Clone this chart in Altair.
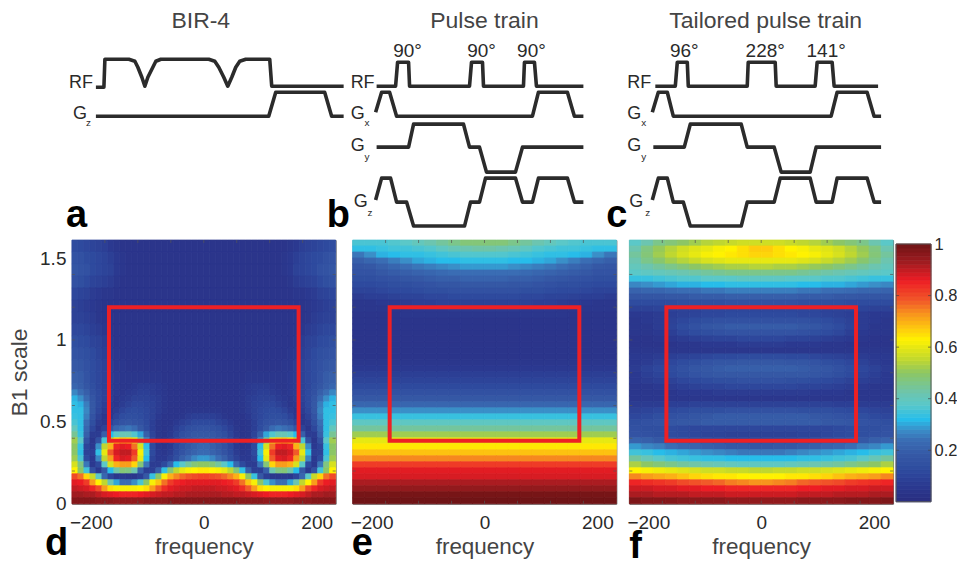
import altair as alt
import pandas as pd

FONT = "Liberation Sans"
INK = "#2b2b2b"
TXT = "#2a2a2a"

# ---- colour map
CMAP_STOPS = [0, .06, .12, .18, .24, .28, .32, .38, .42, .5, .55, .63, .69, .73, .78, .86, .93, 1]
CMAP_COLORS = ["#2a2e80", "#2b3990", "#2e4a9e", "#3558a5", "#3a6db4", "#3a8fc8", "#27bdea", "#5bc8c8",
               "#6cc5b0", "#8cc665", "#bfd730", "#fff200", "#fdb913", "#f7941d", "#f15a29", "#ed1c24",
               "#a01c20", "#701416"]

FREQ_MAX = 233.6
B1_MAX = 1.61
RED_FREQ = [-168, 168]
RED_B1 = [0.384, 1.2]
X_TICK_LABELS = [-200, 0, 200]
Y_TICK_LABELS = [0, 0.5, 1, 1.5]
X_MINOR = [-175.2, -116.8, -58.4, 0, 58.4, 116.8, 175.2]
Y_MINOR = [0.2, 0.4, 0.6, 0.8, 1.0, 1.2, 1.4]
CB_TICKS = [0.2, 0.4, 0.6, 0.8, 1]

# ---- panel d: left half, rows from top (B1 high) to bottom; in percent
D_TOP = [
 [13,12,11,10,9,8,6,5,4,4,4,4,4,4,4,4,4,4,4,4,4,4],
 [16,15,13,12,11,10,8,6,5,4,4,4,4,4,4,4,4,4,4,4,4,4],
 [17,16,15,12,11,10,9,6,5,4,4,4,4,4,4,4,4,4,4,4,4,4],
 [15,14,12,10,9,8,7,5,4,4,4,4,4,4,4,4,4,4,4,4,4,4],
 [11,10,9,7,6,5,5,4,4,4,4,4,4,4,4,4,4,4,4,4,4,4],
 [9,8,7,6,5,4,4,4,4,4,4,4,4,4,4,4,4,4,4,4,4,4],
 [9,9,8,7,5,4,4,4,4,4,4,4,4,4,4,4,4,4,4,4,4,4],
 [11,11,10,8,7,5,4,4,4,4,4,4,4,4,4,4,4,4,4,4,4,4],
 [14,13,12,10,9,7,5,4,4,4,4,4,4,4,4,4,4,4,4,4,4,4],
 [16,15,14,12,10,8,6,5,4,4,4,4,4,4,4,4,4,4,4,4,4,4],
 [18,17,15,13,11,9,7,5,5,4,4,4,4,4,4,4,4,4,4,4,4,4],
 [20,19,16,13,11,9,7,6,5,5,5,5,5,5,5,4,4,4,4,4,4,4],
]
D_BOTTOM = [
 [22,20,17,14,11,9,7,6,5,5,6,7,7,7,6,5,4,4,4,4,4,4],
 [27,24,20,15,12,9,7,6,5,6,7,8,8,7,6,5,4,4,4,4,4,4],
 [31,28,23,17,12,9,7,5,6,7,9,9,9,8,7,5,4,4,4,4,4,4],
 [33,31,26,18,12,8,6,5,7,9,11,11,10,9,7,5,4,4,4,4,4,4],
 [33,33,27,18,11,7,5,7,10,12,13,12,11,9,7,5,4,4,4,5,5,5],
 [34,33,26,16,9,5,6,10,13,14,14,13,11,9,6,4,4,4,5,7,8,8],
 [36,33,24,14,7,5,10,14,16,17,16,15,12,8,5,4,4,6,8,10,12,12],
 [40,33,22,11,5,9,17,22,24,25,23,18,13,8,5,4,5,8,11,14,15,16],
 [45,34,20,7,7,20,32,38,41,41,37,30,20,10,5,4,6,10,14,16,18,18],
 [52,38,15,5,15,36,55,64,67,66,60,46,27,12,5,4,7,12,16,18,19,20],
 [50,34,10,6,28,55,70,85,87,86,76,58,33,12,5,4,6,11,15,18,20,22],
 [50,33,9,8,33,60,78,88,90,90,82,62,35,12,6,5,7,12,16,19,21,23],
 [52,36,12,6,27,55,72,85,88,87,78,60,32,10,6,6,9,14,20,24,27,29],
 [58,47,25,6,12,38,58,70,72,72,66,48,25,7,7,12,22,32,38,44,48,50],
 [63,50,35,15,6,18,32,43,48,47,42,20,8,8,20,33,48,55,60,62,63,64],
 [80,76,66,56,38,22,10,5,6,5,5,8,18,34,50,62,70,74,77,79,80,81],
 [87,86,82,72,63,55,42,30,24,24,28,36,50,62,68,76,82,85,86,87,87,87],
 [90,89,88,85,80,72,65,62,62,62,62,63,65,72,78,84,87,88,89,89,90,90],
 [93,93,92,92,90,88,87,86,85,85,85,86,87,88,89,90,90,91,91,92,92,92],
 [97,97,97,97,96,96,96,95,95,95,95,95,96,96,96,96,97,97,97,97,97,97],
]

# ---- panel e: left half, 6 px rows from top to bottom; in percent
E_ROWS = [
 [36,36,36,37,38,40,42,44,46,48,48],
 [33,33,34,35,35,36,37,39,41,42,43],
 [25,28,31,32,33,33,34,35,36,37,37],
 [20,22,24,26,28,30,31,32,32,33,33],
 [17,18,20,22,24,25,26,27,28,29,29],
 [16,16,18,19,20,21,22,23,24,24,24],
 [14,14,15,16,17,18,19,20,20,21,21],
 [12,12,13,14,14,15,16,17,17,18,18],
 [10,10,11,12,12,13,14,14,15,15,15],
 [7,8,8,9,10,10,11,11,12,12,12],
 [5,5,6,6,7,8,8,9,9,9,9],
 [5,5,5,5,5,6,6,6,7,7,7],
 [4,4,4,4,5,5,5,5,5,5,5],
 [4]*11,[4]*11,[4]*11,[4]*11,[4]*11,[4]*11,[4]*11,[5]*11,
 [6]*11,[8]*11,[10]*11,[12]*11,[15]*11,[18]*11,[22]*11,[28]*11,[34]*11,[39]*11,
 [44]*11,[52]*11,[60]*11,[64]*11,[68]*11,[74]*11,[82]*11,[87]*11,[88]*11,[92]*11,
 [95]*11,[99]*11,[100]*11,
]

# ---- panel f: left half, 6 px rows from top to bottom; in percent
F_ROWS = [
 [38,42,46,48,50,52,54,55,56,57,57],
 [42,47,51,54,57,59,60,62,63,65,67],
 [44,48,52,55,58,60,62,63,64,65,66],
 [42,46,49,52,54,56,58,59,60,60,60],
 [40,42,44,46,48,50,51,52,53,53,54],
 [38,39,40,41,42,43,44,45,46,46,46],
 [34,34,35,36,37,37,38,38,38,39,39],
 [27,28,29,30,31,31,32,32,33,33,33],
 [21,22,22,23,24,24,25,25,26,26,26],
 [17,17,17,18,18,19,19,19,20,20,20],
 [13,13,13,13,14,14,14,14,15,15,15],
 [9,9,10,10,10,10,11,11,11,11,11],
 [6,6,7,8,9,10,11,11,12,12,12],
 [5,6,7,9,11,13,14,15,15,15,15],
 [5,5,7,10,13,15,17,18,19,19,19],
 [5,5,6,8,11,13,14,15,16,16,16],
 [4,4,5,6,7,8,9,10,10,11,11],
 [4,4,4,4,5,5,6,6,6,7,7],
 [5,5,5,5,5,5,5,5,5,5,5],
 [6,6,7,8,9,10,11,12,12,13,13],
 [6,7,9,11,13,14,16,17,17,18,18],
 [7,9,11,13,15,17,18,19,20,20,20],
 [6,8,10,12,14,16,17,18,18,18,18],
 [6,7,8,9,11,12,13,14,14,15,15],
 [5,5,6,7,8,9,10,10,11,11,11],
 [5,5,5,5,6,6,6,7,7,7,7],
 [5,5,5,5,5,5,5,5,5,5,5],
 [7,7,7,8,8,9,9,9,9,9,9],
 [9,10,11,12,13,14,14,14,15,15,15],
 [11,12,14,15,16,17,18,19,19,19,19],
 [14,15,16,17,18,18,19,19,19,19,19],
 [15,14,14,13,12,11,11,11,11,11,11],
 [16,15,14,13,12,11,10,10,9,9,9],
 [21,20,18,17,16,15,14,13,12,12,12],
 [29,27,26,24,22,21,20,19,18,18,17],
 [35,34,32,31,30,29,28,27,26,25,25],
 [44,41,38,36,35,34,33,33,32,32,32],
 [53,50,48,46,44,43,42,41,40,39,39],
 [63,62,61,60,59,58,57,57,56,56,55],
 [74,72,71,70,68,66,65,64,64,63,63],
 [85,84,83,82,80,79,78,77,75,74,73],
 [89,89,88,88,87,87,86,86,85,85,85],
 [92,92,91,91,91,90,90,90,89,89,89],
 [98,97,97,97,96,96,96,96,95,95,95],
]

# ---- pulse sequence traces: (time, level)
A_RF = [(95,87),(103,87),(104,59),(128,59),(134,61),(137,67),(141,77),(144,86),(147,77),(152,67),(155,61),(160,59),
        (208,59),(214,61),(218,67),(223,77),(227,86),(231,77),(235,67),(239,61),(245,59),(269,59),(271,86),(343,86)]
A_GZ = [(95,116),(268,116),(275,92),(324,92),(331,116),(343,116)]
B_RF = [(376,86),(395,86),(397,62),(408,62),(409,86),(469,86),(471,62),(482,62),(483,86),(523,86),(524,62),(534,62),(536,86),(583,86)]
B_GX = [(375,112),(381,92),(389,92),(396,116),(532,116),(538,92),(567,92),(574,116),(583,116)]
B_GY = [(376,147),(408,147),(413,124),(463,124),(469,147),(479,147),(486,172),(515,172),(522,147),(583,147)]
B_GZ = [(375,200),(381,178),(390,178),(396,202),(406,202),(413,226),(464,226),(470,202),(479,202),(485,178),(515,178),(522,202),(532,202),(538,178),(567,178),(574,202),(583,202)]
C_RF = [(655,86),(675,86),(677,62),(687,62),(688,86),(747,86),(748,62),(775,62),(776,86),(815,86),(817,62),(832,62),(834,86),(878,86)]
C_GX = [(652,112),(658,92),(667,92),(673,116),(831,116),(837,92),(867,92),(874,116),(881,116)]
C_GY = [(653,147),(684,147),(690,124),(741,124),(747,147),(774,147),(781,172),(810,172),(816,147),(881,147)]
C_GZ = [(652,200),(658,178),(667,178),(673,202),(683,202),(690,226),(741,226),(747,202),(774,202),(780,178),(810,178),(816,202),(832,202),(837,178),(867,178),(874,202),(881,202)]

# ---- annotations: (time, level, text)
A_LABELS = [(68,83,"RF"),(72,114,"G")]
A_SUBS = [(85,123,"z")]
B_LABELS = [(350,83,"RF"),(350,114,"G"),(350,146,"G"),(353,202,"G")]
B_SUBS = [(364,123,"x"),(364,157,"y"),(367,213,"z")]
C_LABELS = [(627,83,"RF"),(627,114,"G"),(627,146,"G"),(629,202,"G")]
C_SUBS = [(641,123,"x"),(641,157,"y"),(645,213,"z")]
B_ANGLES = [(407,51,"90°"),(481,51,"90°"),(531,51,"90°")]
C_ANGLES = [(684,51,"96°"),(765,51,"228°"),(826,51,"141°")]

W = 264
H = 264
TOP_H = 205

color_scale = alt.Scale(domain=CMAP_STOPS, range=CMAP_COLORS, interpolate="rgb", clamp=True)


def grid_frame(rows, row_heights):
    """Long table of cells; rows hold the left half, the picture being mirror symmetric."""
    recs = []
    y_px = 0
    for row, rh in zip(rows, row_heights):
        full = row + row[::-1]
        cw = W / len(full)
        for j, v in enumerate(full):
            recs.append({
                "f0": -FREQ_MAX + 2 * FREQ_MAX * j * cw / W,
                "f1": -FREQ_MAX + 2 * FREQ_MAX * (j + 1) * cw / W,
                "b1": B1_MAX * (1 - (y_px + rh) / H),
                "b0": B1_MAX * (1 - y_px / H),
                "v": v / 100,
            })
        y_px += rh
    return pd.DataFrame(recs)


def heat_panel(rows, row_heights, letter, lx, ly, y_axis):
    df = grid_frame(rows, row_heights)
    xs = alt.Scale(domain=[-FREQ_MAX, FREQ_MAX], nice=False, zero=False)
    ys = alt.Scale(domain=[0, B1_MAX], nice=False, zero=False)
    x_axis = alt.Axis(values=X_TICK_LABELS, title="frequency", grid=False, domain=False, ticks=False,
                      labelFontSize=19, labelColor=TXT, labelPadding=10, labelFont=FONT, format="d",
                      labelExpr="replace(datum.label, '-', '−')",
                      titleFontSize=22.5, titleFont=FONT, titleFontWeight="normal", titleColor="#444444", titlePadding=3)
    yax = None
    if y_axis:
        yax = alt.Axis(values=Y_TICK_LABELS, title="B1 scale", grid=False, domain=False, ticks=False,
                       labelFontSize=19, labelColor=TXT, labelPadding=6, labelFont=FONT, labelFlush=False,
                       labelExpr="format(datum.value, '~g')",
                       titleFontSize=23, titleFont=FONT, titleFontWeight="normal", titleColor="#444444", titlePadding=8)
    heat = alt.Chart(df).mark_rect(strokeWidth=0.8).encode(
        x=alt.X("f0:Q", scale=xs, axis=x_axis),
        x2="f1:Q",
        y=alt.Y("b0:Q", scale=ys, axis=yax),
        y2="b1:Q",
        color=alt.Color("v:Q", scale=color_scale, legend=None),
        stroke=alt.Stroke("v:Q", scale=color_scale, legend=None),
    )
    red = alt.Chart(pd.DataFrame({"f0": [RED_FREQ[0]], "f1": [RED_FREQ[1]], "b0": [RED_B1[0]], "b1": [RED_B1[1]]})).mark_rect(
        fillOpacity=0, stroke="#ee2024", strokeWidth=4).encode(x="f0:Q", x2="f1:Q", y="b0:Q", y2="b1:Q")
    xt = pd.DataFrame({"f": X_MINOR})
    yt = pd.DataFrame({"b": Y_MINOR})
    layers = [heat, red]
    for pos in (1.5, H - 1.5):
        layers.append(alt.Chart(xt).mark_tick(color="#555555", size=3, thickness=1).encode(x="f:Q", y=alt.value(pos)))
    for pos in (1.5, W - 1.5):
        layers.append(alt.Chart(yt).mark_tick(color="#555555", size=3, thickness=1).encode(y="b:Q", x=alt.value(pos)))
    layers.append(alt.Chart(pd.DataFrame({"t": [letter]})).mark_text(
        font=FONT, fontWeight="bold", fontSize=38, color="black", align="left", baseline="alphabetic"
    ).encode(text="t:N", x=alt.value(lx), y=alt.value(ly)))
    return alt.layer(*layers).properties(width=W, height=H, view=alt.ViewBackground(stroke="#666666", strokeWidth=1))


def trace_frame(traces):
    recs = []
    for name, pts in traces.items():
        for i, (t, a) in enumerate(pts):
            recs.append({"trace": name, "i": i, "t": t, "a": a})
    return pd.DataFrame(recs)


def text_frame(items):
    return pd.DataFrame([{"t": t, "a": a, "s": s} for t, a, s in items])


def seq_panel(title, title_dx, left, traces, labels, subs, angles, letter, letter_x):
    xs = alt.Scale(domain=[left, left + W], nice=False, zero=False)
    ys = alt.Scale(domain=[235, 30], nice=False, zero=False)
    X = alt.X("t:Q", scale=xs, axis=None)
    Y = alt.Y("a:Q", scale=ys, axis=None)
    lines = alt.Chart(trace_frame(traces)).mark_line(color=INK, strokeWidth=3.6, strokeJoin="round", clip=False).encode(
        x=X, y=Y, detail="trace:N", order="i:Q")
    layers = [lines]
    layers.append(alt.Chart(text_frame(labels)).mark_text(font=FONT, fontSize=18, color=TXT, align="left", baseline="middle").encode(x=X, y=Y, text="s:N"))
    layers.append(alt.Chart(text_frame(subs)).mark_text(font=FONT, fontSize=10, color=TXT, align="left", baseline="middle").encode(x=X, y=Y, text="s:N"))
    if angles:
        layers.append(alt.Chart(text_frame(angles)).mark_text(font=FONT, fontSize=19, color=TXT, align="center", baseline="middle").encode(x=X, y=Y, text="s:N"))
    layers.append(alt.Chart(text_frame([(letter_x, 227, letter)])).mark_text(
        font=FONT, fontWeight="bold", fontSize=38, color="black", align="left", baseline="alphabetic").encode(x=X, y=Y, text="s:N"))
    return alt.layer(*layers).properties(
        width=W, height=TOP_H, view=alt.ViewBackground(stroke=None),
        title=alt.TitleParams(title, fontSize=23, font=FONT, fontWeight="normal", color="#444444", dx=title_dx, offset=-3, anchor="middle"),
    )


panel_a = seq_panel("BIR-4", -3, 71, {"rf": A_RF, "gz": A_GZ}, A_LABELS, A_SUBS, None, "a", 65)
panel_b = seq_panel("Pulse train", 0, 352, {"rf": B_RF, "gx": B_GX, "gy": B_GY, "gz": B_GZ}, B_LABELS, B_SUBS, B_ANGLES, "b", 326)
panel_c = seq_panel("Tailored pulse train", 4.5, 629, {"rf": C_RF, "gx": C_GX, "gy": C_GY, "gz": C_GZ}, C_LABELS, C_SUBS, C_ANGLES, "c", 606)

panel_d = heat_panel(D_TOP + D_BOTTOM, [12] * len(D_TOP) + [6] * len(D_BOTTOM), "d", -27, 315, True)
panel_e = heat_panel(E_ROWS, [6] * len(E_ROWS), "e", -1, 315, False)
panel_f = heat_panel(F_ROWS, [6] * len(F_ROWS), "f", 0, 318, False)

# ---- colour bar: one band per level of the 64-step colormap
levels = [i / 64 for i in range(64)]
cb_df = pd.DataFrame({"v0": levels, "v1": [l + 1 / 64 for l in levels], "c": [l + 1 / 128 for l in levels]})
cb_y = alt.Scale(domain=[-2 / 258, 1 + 4 / 258], nice=False, zero=False)
cb = alt.Chart(cb_df).mark_rect(strokeWidth=0.8).encode(
    y=alt.Y("v0:Q", scale=cb_y, axis=alt.Axis(orient="right", values=CB_TICKS, title=None, grid=False, domain=False, ticks=False,
                                             labelFontSize=16.5, labelColor=TXT, labelPadding=3, labelFont=FONT, labelFlush=False,
                                             labelExpr="datum.value == 1 ? '1' : format(datum.value, '.1f')")),
    y2="v1:Q",
    color=alt.Color("c:Q", scale=color_scale, legend=None),
    stroke=alt.Stroke("c:Q", scale=color_scale, legend=None),
)
cb_frame = alt.Chart(pd.DataFrame({"v0": [0], "v1": [1]})).mark_rect(fillOpacity=0, stroke="#555555", strokeWidth=1).encode(
    y=alt.Y("v0:Q", scale=cb_y), y2="v1:Q")
cb_tick_df = pd.DataFrame({"v": CB_TICKS[:-1]})
cb_ticks = [alt.Chart(cb_tick_df).mark_tick(color="#444444", size=3, thickness=1).encode(y=alt.Y("v:Q", scale=cb_y), x=alt.value(p)) for p in (1.5, 33.5)]
panel_cb = alt.layer(cb, cb_frame, *cb_ticks).properties(width=35, height=H, view=alt.ViewBackground(stroke=None))

top = alt.hconcat(panel_a, alt.hconcat(panel_b, panel_c, spacing=13, bounds="flush"), spacing=17, bounds="flush")
bottom = alt.hconcat(panel_d, alt.hconcat(panel_e, alt.hconcat(panel_f, panel_cb, spacing=3, bounds="flush"), spacing=13, bounds="flush"), spacing=17, bounds="flush")
chart = alt.vconcat(top, bottom, spacing=210, bounds="flush").properties(
    padding={"left": 0, "top": 2, "right": 0, "bottom": 0},
    background="white",
).configure(font=FONT)

chart.save("out.html", embed_options={"renderer": "svg", "actions": False})
